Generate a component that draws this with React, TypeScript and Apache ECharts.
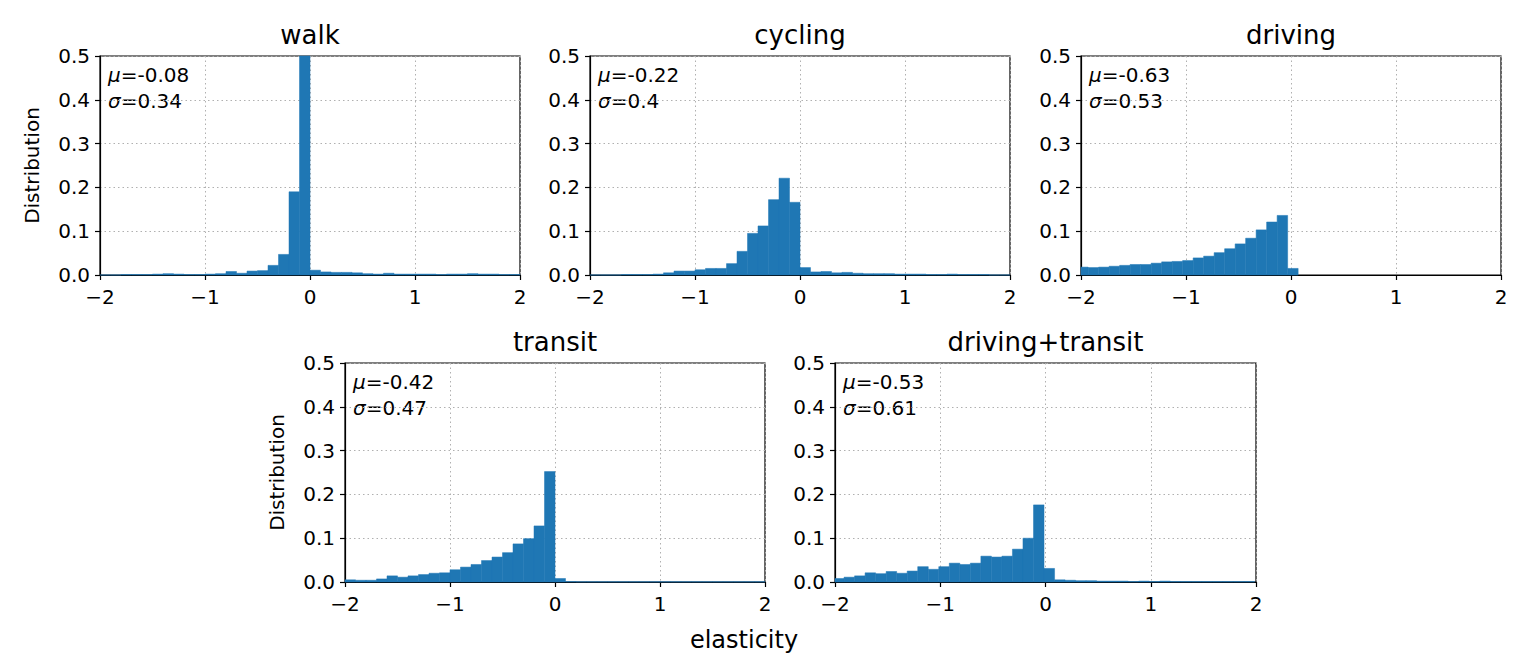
import React, { useEffect, useRef } from "react";
import * as echarts from "echarts";

const BIN_WIDTH = 0.1;
const panelTitles = ["walk", "cycling", "driving", "transit", "driving+transit"];
const panelMu = ["-0.08", "-0.22", "-0.63", "-0.42", "-0.53"];
const panelSigma = ["0.34", "0.4", "0.53", "0.47", "0.61"];
const xTicks = [-2, -1, 0, 1, 2];
const yTicks = [0, 0.1, 0.2, 0.3, 0.4, 0.5];

const walkStart = -2.0;
const walkHeights = [
  0.0, 0.0, 0.001, 0.001, 0.001, 0.002, 0.003, 0.002, 0.001, 0.001,
  0.002, 0.003, 0.008, 0.004, 0.009, 0.01, 0.022, 0.047, 0.19, 0.62,
  0.011, 0.007, 0.006, 0.006, 0.005, 0.003, 0.002, 0.004, 0.002, 0.002,
  0.002, 0.002, 0.001, 0.002, 0.002, 0.003, 0.002, 0.002, 0.001, 0.001,
];

const cyclingStart = -2.0;
const cyclingHeights = [
  0.0, 0.0, 0.0, 0.001, 0.001, 0.001, 0.002, 0.005, 0.009, 0.009,
  0.012, 0.015, 0.015, 0.026, 0.054, 0.095, 0.112, 0.172, 0.221, 0.166,
  0.017, 0.007, 0.008, 0.005, 0.006, 0.004, 0.003, 0.003, 0.003, 0.002,
  0.002, 0.002, 0.001, 0.001, 0.002, 0.001, 0.001, 0.001, 0.0, 0.0,
];

const drivingStart = -2.032;
const drivingHeights = [
  0.018, 0.017, 0.018, 0.02, 0.022, 0.024, 0.024, 0.027, 0.03, 0.031,
  0.033, 0.039, 0.043, 0.051, 0.06, 0.071, 0.084, 0.103, 0.121, 0.136,
  0.015,
];

const transitStart = -2.0;
const transitHeights = [
  0.005, 0.004, 0.004, 0.007, 0.014, 0.011, 0.014, 0.017, 0.02, 0.021,
  0.028, 0.034, 0.04, 0.049, 0.057, 0.067, 0.087, 0.099, 0.128, 0.252,
  0.008, 0.001, 0.0005, 0.0005, 0.0005, 0.0005, 0.0005, 0.0005, 0.0005, 0.0005,
  0.0005, 0.0005, 0.0005, 0.0005, 0.0005, 0.0005, 0.0005, 0.0005, 0.0005, 0.0005,
];

const comboStart = -2.014;
const comboHeights = [
  0.008, 0.011, 0.014, 0.021, 0.019, 0.024, 0.02, 0.025, 0.035, 0.029,
  0.035, 0.043, 0.04, 0.043, 0.059, 0.057, 0.059, 0.075, 0.1, 0.176,
  0.031, 0.005, 0.004, 0.003, 0.003, 0.002, 0.002, 0.002, 0.001, 0.002,
  0.001, 0.002, 0.001, 0.001, 0.001, 0.001, 0.001, 0.001, 0.001, 0.001,
];

const panelStarts = [walkStart, cyclingStart, drivingStart, transitStart, comboStart];
const panelHeights = [walkHeights, cyclingHeights, drivingHeights, transitHeights, comboHeights];

const FONT = "DejaVu Sans";
const BAR_COLOR = "#1f77b4";

// layout (pixels)
const grids = [
  { left: 100, top: 56, width: 420, height: 219 },
  { left: 590, top: 56, width: 420, height: 219 },
  { left: 1081, top: 56, width: 420, height: 219 },
  { left: 345, top: 363, width: 420, height: 219 },
  { left: 835, top: 363, width: 421, height: 219 },
];

function toBins(start: number, heights: number[]) {
  return heights.map((h, i) => [start + i * BIN_WIDTH, start + (i + 1) * BIN_WIDTH, h]);
}

const fmtMinus = (v: number) => String(v).replace("-", "\u2212");

export default function App() {
  const ref = useRef<HTMLDivElement>(null);
  useEffect(() => {
    if (!ref.current) return;
    const chart = echarts.init(ref.current, undefined, { renderer: "svg" });

    const renderItem = (params: any, api: any) => {
      const x0 = api.value(0);
      const x1 = api.value(1);
      const h = api.value(2);
      const p0 = api.coord([x0, h]);
      const p1 = api.coord([x1, 0]);
      const cs = params.coordSys;
      const shape = echarts.graphic.clipRectByRect(
        { x: p0[0], y: p0[1], width: p1[0] - p0[0], height: p1[1] - p0[1] },
        { x: cs.x, y: cs.y, width: cs.width, height: cs.height }
      );
      if (!shape) return null;
      return {
        type: "rect",
        shape,
        style: { fill: BAR_COLOR, stroke: BAR_COLOR, lineWidth: 0.5 },
      };
    };

    const graphics: any[] = [];
    grids.forEach((g, i) => {
      graphics.push({
        type: "text",
        x: g.left + g.width / 2,
        y: g.top - 21,
        style: {
          text: panelTitles[i],
          font: `26px "${FONT}"`,
          fill: "#000",
          textAlign: "center",
          textVerticalAlign: "middle",
        },
      });
      graphics.push({
        type: "text",
        x: g.left + 8,
        y: g.top + 19,
        style: {
          text: `{i|\u03bc}=${panelMu[i]}`,
          font: `20px "${FONT}"`,
          fill: "#000",
          textAlign: "left",
          textVerticalAlign: "middle",
          rich: { i: { fontStyle: "italic", fontSize: 20, fontFamily: FONT } },
        },
      });
      graphics.push({
        type: "text",
        x: g.left + 8,
        y: g.top + 45,
        style: {
          text: `{i|\u03c3}=${panelSigma[i]}`,
          font: `20px "${FONT}"`,
          fill: "#000",
          textAlign: "left",
          textVerticalAlign: "middle",
          rich: { i: { fontStyle: "italic", fontSize: 20, fontFamily: FONT } },
        },
      });
    });
    graphics.push({
      type: "text",
      x: 744,
      y: 640,
      style: {
        text: "elasticity",
        font: `24px "${FONT}"`,
        fill: "#000",
        textAlign: "center",
        textVerticalAlign: "middle",
      },
    });

    const option: any = {
      animation: false,
      backgroundColor: "#fff",
      textStyle: { fontFamily: FONT },
      grid: grids.map((g) => ({
        ...g,
        show: true,
        borderColor: "#000",
        borderWidth: 1.2,
        backgroundColor: "transparent",
        containLabel: false,
      })),
      xAxis: grids.map((_, i) => ({
        type: "value",
        gridIndex: i,
        min: xTicks[0],
        max: xTicks[xTicks.length - 1],
        interval: 1,
        axisLine: { show: true, onZero: false, lineStyle: { color: "#000", width: 1.2 } },
        axisTick: { show: true, inside: false, length: 5, lineStyle: { color: "#000", width: 1.2 } },
        axisLabel: {
          fontSize: 20,
          color: "#000",
          fontFamily: FONT,
          margin: 12,
          formatter: (v: number) => fmtMinus(v),
        },
        splitLine: { show: true, lineStyle: { color: "#b0b0b0", type: [1.5, 3], width: 1 } },
      })),
      yAxis: grids.map((_, i) => ({
        type: "value",
        gridIndex: i,
        min: yTicks[0],
        max: yTicks[yTicks.length - 1],
        interval: 0.1,
        name: i === 0 || i === 3 ? "Distribution" : "",
        nameLocation: "middle",
        nameRotate: 90,
        nameGap: 58,
        nameTextStyle: { fontSize: 20, color: "#000", fontFamily: FONT },
        axisLine: { show: true, onZero: false, lineStyle: { color: "#000", width: 1.2 } },
        axisTick: { show: true, inside: false, length: 5, lineStyle: { color: "#000", width: 1.2 } },
        axisLabel: {
          fontSize: 20,
          color: "#000",
          fontFamily: FONT,
          margin: 10,
          formatter: (v: number) => v.toFixed(1),
        },
        splitLine: { show: true, lineStyle: { color: "#b0b0b0", type: [1.5, 3], width: 1 } },
      })),
      series: grids.map((_, i) => ({
        type: "custom",
        xAxisIndex: i,
        yAxisIndex: i,
        renderItem,
        encode: { x: [0, 1], y: 2 },
        data: toBins(panelStarts[i], panelHeights[i]),
        silent: true,
      })),
      graphic: graphics,
    };
    chart.setOption(option);
    return () => chart.dispose();
  }, []);

  return (
    <div
      ref={ref}
      style={{ position: "absolute", left: 0, top: 0, width: 1530, height: 662, background: "#fff" }}
    />
  );
}
